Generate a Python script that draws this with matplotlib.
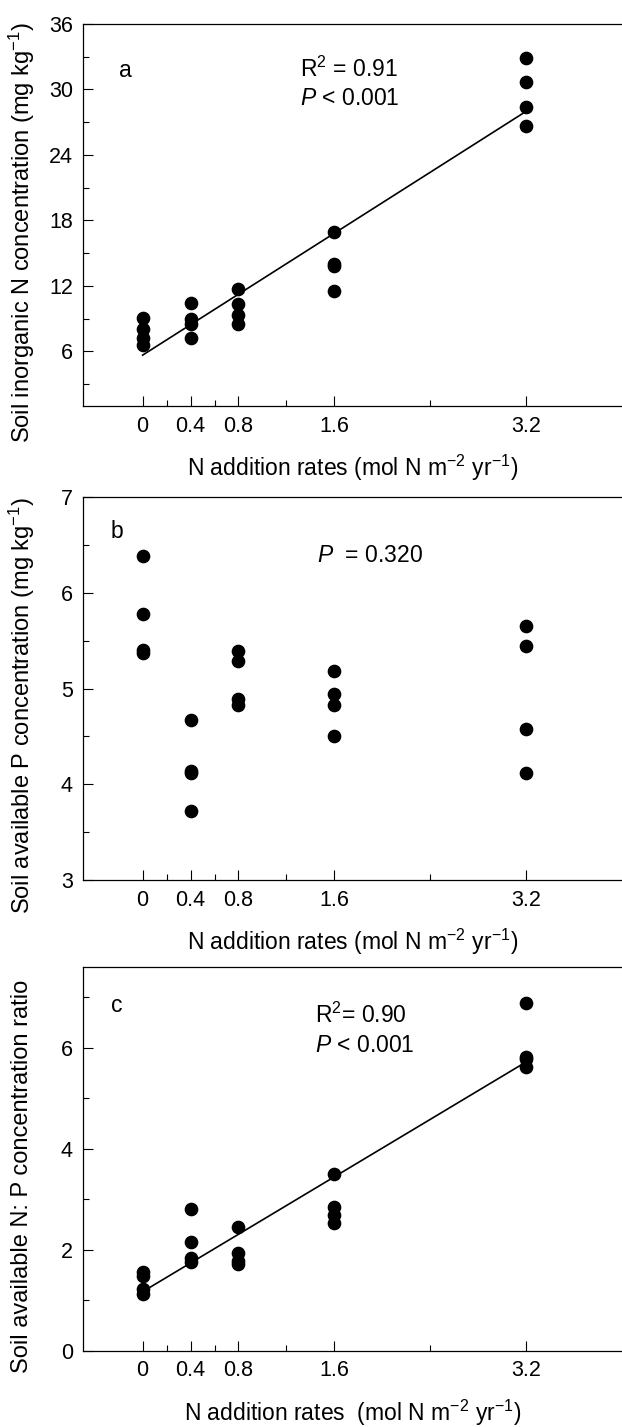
import matplotlib
matplotlib.use("Agg")
import matplotlib.pyplot as plt
import numpy as np

plt.rcParams["font.family"] = ["Liberation Sans", "DejaVu Sans"]
plt.rcParams["mathtext.fontset"] = "custom"
plt.rcParams["mathtext.rm"] = "Liberation Sans"
plt.rcParams["mathtext.it"] = "Liberation Sans:italic"
plt.rcParams["mathtext.default"] = "regular"

# ===== data =====
n_rates = [0, 0.4, 0.8, 1.6, 3.2]
n_tick_labels = ["0", "0.4", "0.8", "1.6", "3.2"]

# soil inorganic N (mg kg-1), four plots per rate
inorg_n = [
    [9.1, 8.1, 7.2, 6.6],
    [10.4, 8.95, 8.5, 7.2],
    [11.7, 10.3, 9.3, 8.5],
    [16.9, 14.0, 13.8, 11.5],
    [32.9, 30.7, 28.4, 26.7],
]
# soil available P (mg kg-1)
avail_p = [
    [6.39, 5.78, 5.40, 5.37],
    [4.67, 4.14, 4.12, 3.72],
    [5.39, 5.29, 4.89, 4.83],
    [5.18, 4.94, 4.83, 4.51],
    [5.65, 5.45, 4.58, 4.12],
]
# available N:P ratio
np_ratio = [
    [1.55, 1.48, 1.22, 1.12],
    [2.80, 2.16, 1.84, 1.76],
    [2.44, 1.94, 1.77, 1.72],
    [3.49, 2.85, 2.69, 2.53],
    [6.88, 5.82, 5.78, 5.62],
]

xlab = "N addition rates (mol N m$^{-2}$ yr$^{-1}$)"
xlab_c = "N addition rates  (mol N m$^{-2}$ yr$^{-1}$)"

TICK_FS = 15.5
XLAB_FS = 16.5
YLAB_FS = 17
TXT_FS = 16.5


def flat(groups):
    xs, ys = [], []
    for x, vals in zip(n_rates, groups):
        for v in vals:
            xs.append(x)
            ys.append(v)
    return np.array(xs), np.array(ys)


def style_axis(ax, ylim, yticks, yminor):
    ax.set_xlim(-0.5, 4.0)
    ax.set_ylim(*ylim)
    ax.set_xticks(n_rates)
    ax.set_xticklabels(n_tick_labels)
    ax.set_xticks([0.2, 0.6, 1.2, 2.4], minor=True)
    ax.set_yticks(yticks)
    ax.set_yticks(yminor, minor=True)
    ax.tick_params(which="both", direction="in", labelsize=TICK_FS, pad=7, width=0.8)
    ax.tick_params(which="major", length=7)
    ax.tick_params(which="minor", length=4)
    ax.spines["right"].set_visible(False)
    for s in ["left", "bottom", "top"]:
        ax.spines[s].set_linewidth(0.9)


W, H = 622, 1427
fig = plt.figure(figsize=(W / 100, H / 100), dpi=100)

left = 82.7
panels = [(24, 406), (497.3, 880), (966.7, 1350.7)]
axes = []
for top, bot in panels:
    axes.append(fig.add_axes([left / W, 1 - bot / H, (W - left) / W, (bot - top) / H]))

ms = 78

# ===== a =====
ax = axes[0]
x, y = flat(inorg_n)
ax.scatter(x, y, s=ms, color="black", zorder=3)
k, b = np.polyfit(x, y, 1)
xf = np.array([0, 3.2])
ax.plot(xf, k * xf + b, color="black", lw=1.2)
style_axis(ax, (1, 36), [6, 12, 18, 24, 30, 36], [3, 9, 15, 21, 27, 33])
ax.text(0.067, 0.861, "a", transform=ax.transAxes, fontsize=TXT_FS)
ax.text(0.403, 0.862, "R$^2$ = 0.91", transform=ax.transAxes, fontsize=TXT_FS)
ax.text(0.403, 0.788, r"$\mathit{P}$ < 0.001", transform=ax.transAxes, fontsize=TXT_FS)
ax.set_ylabel("Soil inorganic N concentration (mg kg$^{-1}$)", fontsize=YLAB_FS)
ax.set_xlabel(xlab, fontsize=XLAB_FS)

# ===== b =====
ax = axes[1]
x, y = flat(avail_p)
ax.scatter(x, y, s=ms, color="black", zorder=3)
style_axis(ax, (3, 7), [3, 4, 5, 6, 7], [3.5, 4.5, 5.5, 6.5])
ax.text(0.052, 0.893, "b", transform=ax.transAxes, fontsize=TXT_FS)
ax.text(0.434, 0.832, r"$\mathit{P}$  = 0.320", transform=ax.transAxes, fontsize=TXT_FS)
ax.set_ylabel("Soil available P concentration (mg kg$^{-1}$)", fontsize=YLAB_FS)
ax.set_xlabel(xlab, fontsize=XLAB_FS)

# ===== c =====
ax = axes[2]
x, y = flat(np_ratio)
ax.scatter(x, y, s=ms, color="black", zorder=3)
k, b = np.polyfit(x, y, 1)
ax.plot(xf, k * xf + b, color="black", lw=1.2)
style_axis(ax, (0, 7.6), [0, 2, 4, 6], [1, 3, 5, 7])
ax.text(0.052, 0.883, "c", transform=ax.transAxes, fontsize=TXT_FS)
ax.text(0.43, 0.853, "R$^2$= 0.90", transform=ax.transAxes, fontsize=TXT_FS)
ax.text(0.43, 0.779, r"$\mathit{P}$ < 0.001", transform=ax.transAxes, fontsize=TXT_FS)
ax.set_ylabel("Soil available N: P concentration ratio", fontsize=YLAB_FS)
ax.set_xlabel(xlab_c, fontsize=XLAB_FS)

for ax in axes:
    ax.xaxis.set_label_coords(0.5, -0.162)
    ax.xaxis.label.set_va("center")
    ax.yaxis.set_label_coords(-0.1126, 0.455)
    ax.yaxis.label.set_va("center")

fig.savefig("out.png", dpi=100)
